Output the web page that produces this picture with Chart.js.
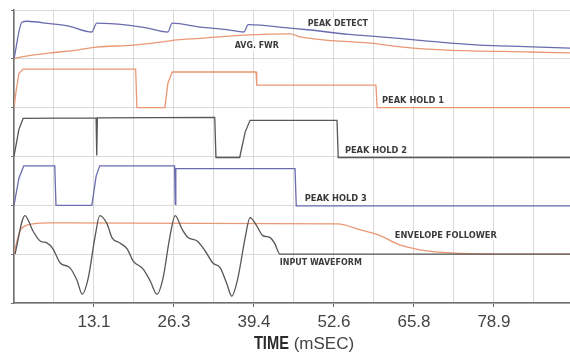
<!DOCTYPE html>
<html>
<head>
<meta charset="utf-8">
<script src="https://cdn.jsdelivr.net/npm/chart.js@4.4.1/dist/chart.umd.min.js"></script>
<style>
  html, body { margin: 0; padding: 0; background: #fff; }
  #wrap { width: 570px; height: 358px; }
</style>
</head>
<body>
<div id="wrap"><canvas id="scope" width="570" height="358"></canvas></div>
<script>
// time axis in ms, one grid division = 6.575 ms
const X_MAX = 91.4;
const DIV = 6.575;
const tickLabels = ['13.1', '26.3', '39.4', '52.6', '65.8', '78.9'];

// each trace sits on its own baseline (grid units, 0 = bottom)
const peakDetectT = [0, 1.3, 2.1, 5.9, 9.0, 12.8, 13.6, 18.6, 22.0, 25.3, 26.0, 30.6, 35.0, 37.8, 38.5, 45.4, 48.7, 55.0, 60.2, 66.7, 76.6, 84.0, 91.4];
const peakDetectV = [5.0, 5.75, 5.77, 5.72, 5.67, 5.55, 5.73, 5.69, 5.63, 5.55, 5.73, 5.65, 5.6, 5.55, 5.7, 5.63, 5.59, 5.5, 5.45, 5.38, 5.28, 5.25, 5.22];

const avgFwrT = [0, 0.5, 5.9, 10.4, 13.6, 19.6, 24.0, 26.1, 30.6, 38.8, 45.4, 47.0, 58.5, 65.6, 71.2, 84.8, 91.4];
const avgFwrV = [5.0, 5.02, 5.12, 5.18, 5.24, 5.28, 5.34, 5.38, 5.42, 5.49, 5.51, 5.45, 5.32, 5.22, 5.18, 5.14, 5.12];

const hold1T = [0, 0.3, 0.8, 1.5, 20.0, 20.2, 24.8, 25.3, 26.0, 39.8, 39.9, 59.5, 59.7, 91.4];
const hold1V = [4.0, 4.3, 4.7, 4.79, 4.79, 4.0, 4.0, 4.5, 4.73, 4.73, 4.46, 4.46, 4.0, 4.0];

const hold2T = [0, 0.8, 1.5, 13.5, 13.6, 13.7, 33.0, 33.2, 37.1, 38.0, 38.8, 53.1, 53.3, 91.4];
const hold2V = [3.0, 3.55, 3.78, 3.79, 3.02, 3.79, 3.8, 2.98, 2.98, 3.5, 3.74, 3.74, 2.98, 2.98];

const hold3T = [0, 0.8, 1.6, 6.7, 6.9, 12.8, 13.5, 14.1, 26.4, 26.5, 26.6, 46.2, 46.4, 91.4];
const hold3V = [2.0, 2.55, 2.81, 2.81, 2.0, 2.0, 2.6, 2.81, 2.81, 2.02, 2.75, 2.75, 1.99, 1.99];

const envelopeT = [0, 0.5, 1.0, 1.8, 3.1, 5.9, 53.1, 57.4, 60.2, 63.0, 66.7, 71.2, 79.4, 91.4];
const envelopeV = [1.0, 1.27, 1.48, 1.58, 1.62, 1.64, 1.62, 1.48, 1.38, 1.21, 1.09, 1.03, 1.0, 1.0];

const inputT = [0.16, 1.8, 3.1, 4.3, 5.4, 6.4, 7.6, 9.2, 10.4, 11.2, 12.2, 13.3, 14.1, 15.3, 16.1, 17.4, 18.6, 19.6, 21.2, 22.4, 23.5, 24.5, 25.6, 26.5, 27.6, 28.6, 30.1, 31.4, 32.7, 33.9, 35.0, 35.8, 36.8, 38.0, 38.8, 39.9, 40.9, 42.1, 42.9, 43.7, 91.4];
const inputV = [1.0, 1.79, 1.48, 1.27, 1.23, 1.11, 0.82, 0.72, 0.45, 0.18, 0.51, 1.34, 1.79, 1.62, 1.34, 1.23, 1.11, 0.86, 0.70, 0.45, 0.18, 0.51, 1.34, 1.79, 1.52, 1.34, 1.27, 1.07, 0.82, 0.72, 0.39, 0.14, 0.51, 1.34, 1.75, 1.58, 1.38, 1.34, 1.21, 1.0, 1.0];

const BLUE = '#6b6bb0';
const ORANGE = '#ea9774';
const DARK = '#565656';

const traceLabels = [
  { text: 'PEAK DETECT', t: 48.3, u: 5.73, w: 60 },
  { text: 'AVG. FWR', t: 36.3, u: 5.26, w: 44 },
  { text: 'PEAK HOLD 1', t: 60.5, u: 4.15, w: 62 },
  { text: 'PEAK HOLD 2', t: 54.4, u: 3.12, w: 62 },
  { text: 'PEAK HOLD 3', t: 47.8, u: 2.14, w: 62 },
  { text: 'ENVELOPE FOLLOWER', t: 62.6, u: 1.38, w: 102 },
  { text: 'INPUT WAVEFORM', t: 43.7, u: 0.82, w: 82 }
];

const pts = (t, v) => t.map((x, i) => ({ x: x, y: v[i] }));

function trace(t, v, color, smooth, order) {
  return {
    data: pts(t, v),
    borderColor: color,
    borderWidth: 1.3,
    pointRadius: 0,
    fill: false,
    order: order,
    cubicInterpolationMode: smooth ? 'monotone' : 'default',
    tension: 0
  };
}

const scopeText = {
  id: 'scopeText',
  afterDatasetsDraw(chart) {
    const ctx = chart.ctx;
    const xs = chart.scales.x, ys = chart.scales.y;
    ctx.save();
    ctx.textBaseline = 'middle';
    ctx.font = "bold 9px 'DejaVu Sans Condensed', 'DejaVu Sans', sans-serif";
    traceLabels.forEach(l => {
      const x = xs.getPixelForValue(l.t);
      const y = ys.getPixelForValue(l.u);
      const m = ctx.measureText(l.text).width;
      ctx.fillStyle = '#fff';
      ctx.fillRect(x - 1, y - 5, l.w + 2, 10);
      ctx.save();
      ctx.translate(x, y);
      ctx.scale(l.w / m, 1);
      ctx.fillStyle = '#3a3a3a';
      ctx.textAlign = 'left';
      ctx.fillText(l.text, 0, 0);
      ctx.restore();
    });

    // axis title: condensed bold "TIME" + regular "(mSEC)"
    const a = 'TIME', b = ' (mSEC)';
    const fa = "bold 18px 'Liberation Sans', Arial, sans-serif";
    const fb = "17px 'Liberation Sans', Arial, sans-serif";
    const wa = 35;
    ctx.font = fb; const wb = ctx.measureText(b).width;
    const cx = (chart.chartArea.left + chart.chartArea.right) / 2 + 12;
    const x0 = cx - (wa + wb) / 2;
    const ty = 344;
    ctx.textAlign = 'left';
    ctx.font = fa;
    const ma = ctx.measureText(a).width;
    ctx.save();
    ctx.translate(x0, ty);
    ctx.scale(wa / ma, 1);
    ctx.fillStyle = '#2a2a2a';
    ctx.fillText(a, 0, 0);
    ctx.restore();
    ctx.fillStyle = '#444';
    ctx.font = fb; ctx.fillText(b, x0 + wa, ty);
    ctx.restore();
  }
};

new Chart(document.getElementById('scope'), {
  type: 'line',
  data: {
    datasets: [
      trace(inputT, inputV, DARK, true, 1),
      trace(envelopeT, envelopeV, ORANGE, true, 2),
      trace(hold3T, hold3V, BLUE, false, 3),
      trace(hold2T, hold2V, DARK, false, 4),
      trace(hold1T, hold1V, ORANGE, false, 5),
      trace(peakDetectT, peakDetectV, BLUE, true, 6),
      trace(avgFwrT, avgFwrV, ORANGE, true, 7)
    ]
  },
  options: {
    responsive: false,
    animation: false,
    devicePixelRatio: 1,
    layout: { padding: { top: 10, right: 0, left: 0, bottom: 0 } },
    plugins: { legend: { display: false }, tooltip: { enabled: false } },
    scales: {
      x: {
        type: 'linear',
        min: 0,
        max: X_MAX,
        afterBuildTicks: s => {
          const t = [];
          for (let k = 0; k * DIV <= X_MAX; k++) t.push({ value: k * DIV });
          s.ticks = t;
        },
        afterFit: s => { s.height = 55; },
        grid: {
          color: '#d9d9d9',
          lineWidth: 1,
          tickLength: 4,
          tickColor: c => (c.index % 2 === 0 && c.index > 0 && c.index <= 12) ? '#666' : 'rgba(0,0,0,0)'
        },
        border: { color: '#707070', width: 1.5 },
        ticks: {
          autoSkip: false,
          maxRotation: 0,
          padding: 5,
          color: '#444',
          font: { family: "'Liberation Sans', Arial, sans-serif", size: 17 },
          callback: (v, i) => (i % 2 === 0 && i > 0 && i / 2 <= tickLabels.length) ? tickLabels[i / 2 - 1] : ''
        }
      },
      y: {
        min: 0,
        max: 6,
        afterFit: s => { s.width = 14; },
        ticks: { display: false, stepSize: 1 },
        grid: { color: '#d9d9d9', lineWidth: 1, tickLength: 3, tickColor: '#777' },
        border: { color: '#707070', width: 1.5 }
      }
    }
  },
  plugins: [scopeText]
});
</script>
</body>
</html>
